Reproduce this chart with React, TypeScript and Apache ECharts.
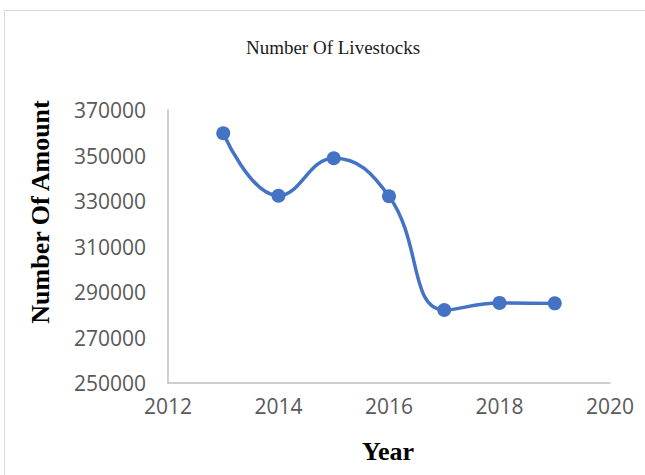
import React, { useEffect, useRef } from "react";
import * as echarts from "echarts";

const years = [2013, 2014, 2015, 2016, 2017, 2018, 2019];
const livestock = [359800, 332300, 348800, 332100, 282100, 285200, 285000];
const titleText = "Number Of Livestocks";
const xName = "Year";
const yName = "Number Of Amount";

export default function App() {
  const ref = useRef<HTMLDivElement>(null);
  useEffect(() => {
    if (!ref.current) return;
    const chart = echarts.init(ref.current, null, { renderer: "svg" });
    chart.setOption({
      animation: false,
      backgroundColor: "#ffffff",
      title: {
        text: titleText,
        left: 328,
        top: 33,
        textAlign: "center",
        textStyle: {
          fontFamily: "Liberation Serif",
          fontWeight: "normal",
          fontSize: 19,
          color: "#1a1a1a",
        },
      },
      graphic: [
        {
          type: "rect",
          shape: { x: 4.5, y: 10.5, width: 800, height: 600 },
          style: { fill: "none", stroke: "#d9d9d9", lineWidth: 1 },
          silent: true,
        },
        {
          type: "text",
          x: 40,
          y: 212,
          rotation: Math.PI / 2,
          style: {
            text: yName,
            fontFamily: "Liberation Serif",
            fontWeight: "bold",
            fontSize: 26,
            fill: "#000000",
            align: "center",
            verticalAlign: "middle",
          },
        },
        {
          type: "text",
          x: 388,
          y: 451,
          style: {
            text: xName,
            fontFamily: "Liberation Serif",
            fontWeight: "bold",
            fontSize: 26,
            fill: "#000000",
            align: "center",
            verticalAlign: "middle",
          },
        },
      ],
      grid: { left: 168, right: 35, top: 110, bottom: 92, containLabel: false },
      xAxis: {
        type: "value",
        min: 2012,
        max: 2020,
        interval: 2,
        axisLine: { show: true, lineStyle: { color: "#bfbfbf", width: 1.5 } },
        axisTick: { show: false },
        splitLine: { show: false },
        axisLabel: {
          color: "#595959",
          fontFamily: "Open Sans",
          fontSize: 21,
          margin: 12,
          formatter: (v: number) => String(v),
        },
      },
      yAxis: {
        type: "value",
        min: 250000,
        max: 370000,
        interval: 20000,
        axisLine: { show: true, lineStyle: { color: "#bfbfbf", width: 1.5 } },
        axisTick: { show: false },
        splitLine: { show: false },
        axisLabel: {
          color: "#595959",
          fontFamily: "Open Sans",
          fontSize: 21,
          margin: 22,
          formatter: (v: number) => String(v),
        },
      },
      series: [
        {
          type: "line",
          data: years.map((y, i) => [y, livestock[i]]),
          smooth: 0.45,
          symbol: "circle",
          symbolSize: 14,
          lineStyle: { color: "#4472C4", width: 3.5 },
          itemStyle: { color: "#4472C4" },
        },
      ],
    });
    return () => chart.dispose();
  }, []);
  return (
    <div
      ref={ref}
      style={{ position: "fixed", left: 0, top: 0, width: 645, height: 475 }}
    />
  );
}
